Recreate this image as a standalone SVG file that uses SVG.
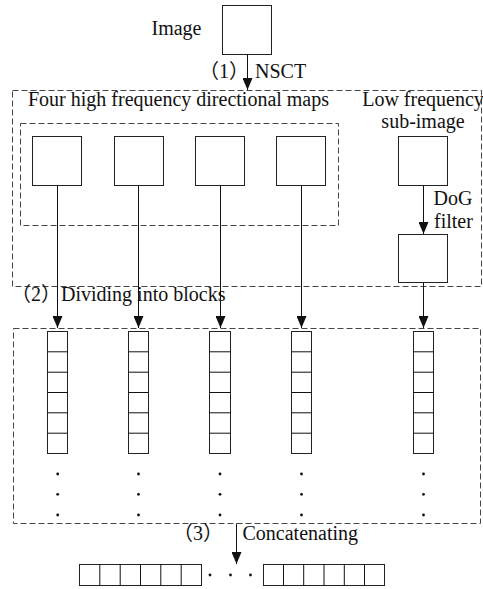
<svg xmlns="http://www.w3.org/2000/svg" width="483" height="589" viewBox="0 0 483 589">
<style>
text{font-family:"Liberation Serif","Times New Roman","DejaVu Serif","Noto Sans CJK SC",serif;font-size:20px;fill:#111}
.box{fill:#fff;stroke:#222;stroke-width:1}
.dash{fill:none;stroke:#444;stroke-width:1;stroke-dasharray:6,3}
.ln{stroke:#111;stroke-width:1;fill:none}
.dot{fill:#111}
</style>
<defs>
<marker id="ahd" markerWidth="12" markerHeight="10" refX="12" refY="5" orient="auto" markerUnits="userSpaceOnUse">
<path d="M0,0 L12,5 L0,10 Z" fill="#111"/>
</marker>
</defs>

<g id="image">
<text x="151.5" y="35">Image</text>
<rect class="box" x="222.5" y="5.5" width="49" height="49"/>
</g>

<g id="stage1">
<rect class="dash" x="12.5" y="90.5" width="469" height="196"/>
<text x="28" y="106">Four high frequency directional maps</text>
<rect class="dash" x="20.5" y="123.5" width="318" height="102"/>
</g>
<g id="hf1"><rect class="box" x="32.5" y="136.5" width="49" height="49"/></g>
<g id="hf2"><rect class="box" x="114.5" y="136.5" width="49" height="49"/></g>
<g id="hf3"><rect class="box" x="195.5" y="136.5" width="49" height="49"/></g>
<g id="hf4"><rect class="box" x="276.5" y="136.5" width="49" height="49"/></g>
<g id="lowfreq">
<text x="423" y="106" text-anchor="middle">Low frequency</text>
<text x="423" y="128" text-anchor="middle">sub-image</text>
<rect class="box" x="398.5" y="136.5" width="49" height="49"/>
</g>
<g id="dog">
<rect class="box" x="398.5" y="234.5" width="49" height="48"/>
</g>

<g id="blocks">
<rect class="dash" x="13.5" y="328.5" width="467" height="195"/>
<g id="col1">
<rect class="box" x="47.5" y="331.5" width="20" height="122"/>
<path class="ln" d="M47.5,351.8H67.5M47.5,372.2H67.5M47.5,392.5H67.5M47.5,412.8H67.5M47.5,433.2H67.5"/>
<circle class="dot" cx="57.7" cy="474" r="1.4"/><circle class="dot" cx="57.7" cy="494.3" r="1.4"/><circle class="dot" cx="57.7" cy="515" r="1.4"/>
</g>
<g id="col2">
<rect class="box" x="128.5" y="331.5" width="20" height="122"/>
<path class="ln" d="M128.5,351.8H148.5M128.5,372.2H148.5M128.5,392.5H148.5M128.5,412.8H148.5M128.5,433.2H148.5"/>
<circle class="dot" cx="138.5" cy="474" r="1.4"/><circle class="dot" cx="138.5" cy="494.3" r="1.4"/><circle class="dot" cx="138.5" cy="515" r="1.4"/>
</g>
<g id="col3">
<rect class="box" x="209.5" y="331.5" width="21" height="122"/>
<path class="ln" d="M209.5,351.8H230.5M209.5,372.2H230.5M209.5,392.5H230.5M209.5,412.8H230.5M209.5,433.2H230.5"/>
<circle class="dot" cx="220" cy="474" r="1.4"/><circle class="dot" cx="220" cy="494.3" r="1.4"/><circle class="dot" cx="220" cy="515" r="1.4"/>
</g>
<g id="col4">
<rect class="box" x="291.5" y="331.5" width="20" height="122"/>
<path class="ln" d="M291.5,351.8H311.5M291.5,372.2H311.5M291.5,392.5H311.5M291.5,412.8H311.5M291.5,433.2H311.5"/>
<circle class="dot" cx="301.5" cy="474" r="1.4"/><circle class="dot" cx="301.5" cy="494.3" r="1.4"/><circle class="dot" cx="301.5" cy="515" r="1.4"/>
</g>
<g id="col5">
<rect class="box" x="413.5" y="331.5" width="20" height="122"/>
<path class="ln" d="M413.5,351.8H433.5M413.5,372.2H433.5M413.5,392.5H433.5M413.5,412.8H433.5M413.5,433.2H433.5"/>
<circle class="dot" cx="423.5" cy="474" r="1.4"/><circle class="dot" cx="423.5" cy="494.3" r="1.4"/><circle class="dot" cx="423.5" cy="515" r="1.4"/>
</g>
</g>

<g id="result">
<rect class="box" x="79.5" y="564.5" width="122" height="21"/>
<path class="ln" d="M99.8,564.5V585.5M120.2,564.5V585.5M140.5,564.5V585.5M160.8,564.5V585.5M181.2,564.5V585.5"/>
<circle class="dot" cx="210" cy="575" r="1.4"/><circle class="dot" cx="230.5" cy="575" r="1.4"/><circle class="dot" cx="250.5" cy="575" r="1.4"/>
<rect class="box" x="263.5" y="564.5" width="121" height="21"/>
<path class="ln" d="M283.5,564.5V585.5M303.7,564.5V585.5M324,564.5V585.5M344.3,564.5V585.5M364.5,564.5V585.5"/>
</g>

<g id="connectors">
<path class="ln" d="M247.5,54.5V90" marker-end="url(#ahd)"/>
<text x="199" y="78">（1）</text>
<text x="255" y="78">NSCT</text>
<path class="ln" d="M57.5,185.5V328" marker-end="url(#ahd)"/>
<path class="ln" d="M138.5,185.5V328" marker-end="url(#ahd)"/>
<path class="ln" d="M220.5,185.5V328" marker-end="url(#ahd)"/>
<path class="ln" d="M301.5,185.5V328" marker-end="url(#ahd)"/>
<path class="ln" d="M423.5,185.5V234" marker-end="url(#ahd)"/>
<text x="433.5" y="204.5">DoG</text>
<text x="434" y="228">filter</text>
<path class="ln" d="M423.5,282.5V328" marker-end="url(#ahd)"/>
<text x="11" y="301">（2）Dividing into blocks</text>
<path class="ln" d="M236.5,523.5V564" marker-end="url(#ahd)"/>
<text x="173" y="540">（3）</text>
<text x="242.5" y="540">Concatenating</text>
</g>
</svg>
